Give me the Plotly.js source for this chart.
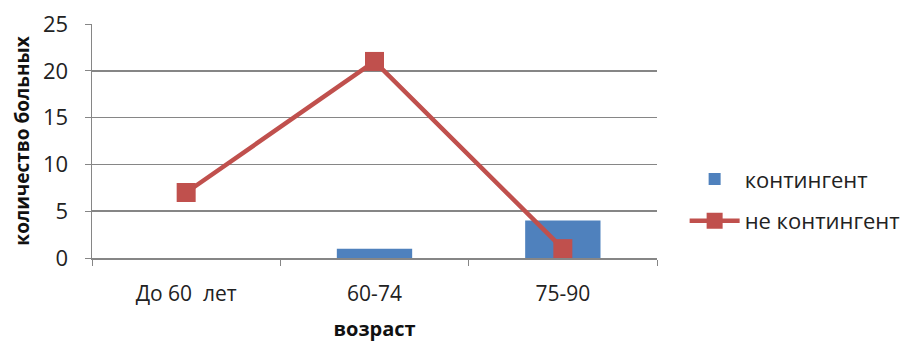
<!DOCTYPE html>
<html>
<head>
<meta charset="utf-8">
<script src="https://cdn.plot.ly/plotly-3.0.1.min.js"></script>
<style>html,body{margin:0;padding:0;background:#fff}#chart{width:908px;height:344px}</style>
</head>
<body>
<div id="chart"></div>
<script>
const categories = ["До 60  лет", "60-74", "75-90"];
const kontingent = [0, 1, 4];
const neKontingent = [7, 21, 1];
const seriesNames = ["контингент", "не контингент"];
const yTitle = "количество больных";
const xTitle = "возраст";

const FONT = "'Open Sans', 'Noto Sans', 'Liberation Sans', sans-serif";

const traces = [
  {
    type: "bar", x: categories, y: kontingent, name: seriesNames[0],
    marker: {color: "#4F81BD"}, width: 0.4, legendgroup: "a"
  },
  {
    type: "scatter", mode: "lines+markers", x: categories, y: neKontingent, name: seriesNames[1],
    line: {color: "#C0504D", width: 4.5},
    marker: {symbol: "square", size: 19, color: "#C0504D"}, legendgroup: "b"
  }
];

const layout = {
  width: 908, height: 344,
  margin: {l: 92, r: 251, t: 24, b: 86},
  paper_bgcolor: "#fff", plot_bgcolor: "#fff",
  font: {family: FONT, size: 20, color: "#222"},
  showlegend: true,
  legend: {
    xref: "container", yref: "container",
    x: 0.754, xanchor: "left", y: 0.54, yanchor: "top",
    font: {family: FONT, size: 22, color: "#222"},
    traceorder: "grouped", tracegroupgap: 10, itemwidth: 50
  },
  xaxis: {
    type: "category", tickson: "boundaries", ticks: "outside", ticklen: 6, tickcolor: "#868686",
    showline: true, linecolor: "#868686", linewidth: 1.5, showgrid: false,
    tickfont: {family: FONT, size: 21, color: "#222"}, ticklabelstandoff: 16,
    title: {text: "<b>" + xTitle + "</b>", font: {family: FONT, size: 20, color: "#111"}, standoff: 16},
    range: [-0.5, 2.5], fixedrange: true
  },
  yaxis: {
    range: [0, 25], dtick: 5, ticks: "outside", ticklen: 6, tickcolor: "#868686",
    showline: true, linecolor: "#868686", linewidth: 1.5,
    showgrid: true, gridcolor: "#868686", gridwidth: 1.5, zeroline: false,
    tickfont: {family: FONT, size: 22, color: "#222"}, ticklabelstandoff: 12,
    title: {text: "<b>" + yTitle + "</b>", font: {family: FONT, size: 19, color: "#111"}, standoff: 8}
  },
  bargap: 0.6
};

Plotly.newPlot("chart", traces, layout, {displayModeBar: false, staticPlot: true});
</script>
</body>
</html>
